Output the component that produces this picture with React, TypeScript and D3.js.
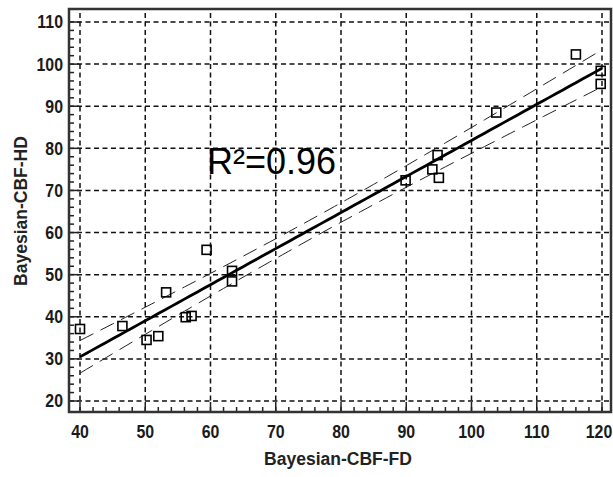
import React from "react";
import * as d3 from "d3";

// Observed values: Bayesian CBF (FD) vs Bayesian CBF (HD)
const cbfFD = [40.0, 46.5, 50.2, 52.0, 53.2, 56.2, 57.1, 59.4, 63.3, 63.3, 89.9, 94.0, 94.8, 95.0, 103.8, 116.0, 119.8, 119.8];
const cbfHD = [37.1, 37.8, 34.5, 35.4, 45.8, 39.9, 40.2, 55.9, 50.9, 48.4, 72.4, 75.0, 78.4, 73.0, 88.5, 102.3, 98.4, 95.3];

const xTicks = [40, 50, 60, 70, 80, 90, 100, 110, 120];
const yTicks = [20, 30, 40, 50, 60, 70, 80, 90, 100, 110];
const xMinorTicks = d3.range(40, 121, 2);
const yMinorTicks = d3.range(20, 111, 2);
const r2Label = "R\u00B2=0.96";

const W = 613;
const H = 477;
const frame = { left: 69, top: 9, right: 611, bottom: 412 };

// Ordinary least squares fit with a 95% confidence band for the mean response
function fitLine(xs: number[], ys: number[]) {
  const n = xs.length;
  const mx = d3.mean(xs)!;
  const my = d3.mean(ys)!;
  let sxx = 0;
  let sxy = 0;
  xs.forEach((x, i) => {
    sxx += (x - mx) * (x - mx);
    sxy += (x - mx) * (ys[i] - my);
  });
  const b = sxy / sxx;
  const a = my - b * mx;
  let sse = 0;
  xs.forEach((x, i) => {
    const r = ys[i] - (a + b * x);
    sse += r * r;
  });
  const s = Math.sqrt(sse / (n - 2));
  const t = 2.12; // t(0.975, 16)
  const half = (x: number) => t * s * Math.sqrt(1 / n + ((x - mx) * (x - mx)) / sxx);
  return { a, b, half };
}

export default function App() {
  const x = d3.scaleLinear().domain([40, 120]).range([80, 602]);
  const y = d3.scaleLinear().domain([20, 110]).range([401, 22]);

  const fit = fitLine(cbfFD, cbfHD);
  const xs = d3.range(40, 120.01, 1);
  const line = d3
    .line<[number, number]>()
    .x((d) => x(d[0]))
    .y((d) => y(d[1]));
  const fitPath = line(xs.map((v) => [v, fit.a + fit.b * v]))!;
  const upperPath = line(xs.map((v) => [v, fit.a + fit.b * v + fit.half(v)]))!;
  const lowerPath = line(xs.map((v) => [v, fit.a + fit.b * v - fit.half(v)]))!;

  const font = "'Liberation Sans', Arial, sans-serif";
  const sq = 9;

  return (
    <svg
      width={W}
      height={H}
      style={{ position: "absolute", left: 0, top: 0, background: "#fff" }}
    >
      <rect x={0} y={0} width={W} height={H} fill="#fff" />

      {/* grid */}
      <g stroke="#111" strokeWidth={1.5} strokeDasharray="5,3.5" fill="none">
        {yTicks.map((t) => (
          <line key={"gy" + t} x1={frame.left + 8} x2={frame.right} y1={y(t)} y2={y(t)} />
        ))}
        {xTicks.map((t) => (
          <line key={"gx" + t} x1={x(t)} x2={x(t)} y1={frame.top + 4} y2={frame.bottom - 8} />
        ))}
      </g>

      {/* minor and major ticks */}
      <g stroke="#222" strokeWidth={1.5}>
        {yMinorTicks.map((t) => (
          <line key={"my" + t} x1={frame.left} x2={frame.left + 5} y1={y(t)} y2={y(t)} />
        ))}
        {yTicks.map((t) => (
          <line key={"My" + t} x1={frame.left} x2={frame.left + 10} y1={y(t)} y2={y(t)} />
        ))}
        {xMinorTicks.map((t) => (
          <line key={"mx" + t} x1={x(t)} x2={x(t)} y1={frame.bottom} y2={frame.bottom - 5} />
        ))}
        {xTicks.map((t) => (
          <line key={"Mx" + t} x1={x(t)} x2={x(t)} y1={frame.bottom} y2={frame.bottom - 10} />
        ))}
      </g>

      {/* confidence band */}
      <g fill="none" stroke="#222" strokeWidth={1} strokeDasharray="15,8">
        <path d={upperPath} />
        <path d={lowerPath} />
      </g>

      {/* fitted line */}
      <path d={fitPath} fill="none" stroke="#000" strokeWidth={2.8} />

      {/* observations */}
      <g fill="none" stroke="#000" strokeWidth={1.6}>
        {cbfFD.map((v, i) => (
          <rect
            key={"p" + i}
            x={x(v) - sq / 2}
            y={y(cbfHD[i]) - sq / 2}
            width={sq}
            height={sq}
          />
        ))}
      </g>

      {/* frame */}
      <rect
        x={frame.left}
        y={frame.top}
        width={frame.right - frame.left}
        height={frame.bottom - frame.top}
        fill="none"
        stroke="#333"
        strokeWidth={2.5}
      />

      {/* tick labels (condensed bold digits) */}
      <g fontFamily={font} fontWeight="bold" fontSize={18.5} fill="#1a1a1a">
        {yTicks.map((t) => (
          <text
            key={"ly" + t}
            transform={`translate(63,${y(t)}) scale(0.86,1)`}
            textAnchor="end"
            dominantBaseline="central"
          >
            {t}
          </text>
        ))}
        {xTicks.map((t) => (
          <text
            key={"lx" + t}
            transform={`translate(${Math.min(x(t), 599)},432) scale(0.86,1)`}
            textAnchor="middle"
            dominantBaseline="central"
          >
            {t}
          </text>
        ))}
      </g>

      {/* axis titles */}
      <text
        x={338}
        y={465}
        textAnchor="middle"
        fontFamily={font}
        fontWeight="bold"
        fontSize={17.5}
        fill="#222"
      >
        Bayesian-CBF-FD
      </text>
      <text
        transform="translate(27,211) rotate(-90)"
        textAnchor="middle"
        fontFamily={font}
        fontWeight="bold"
        fontSize={17.5}
        fill="#222"
      >
        Bayesian-CBF-HD
      </text>

      {/* coefficient of determination */}
      <text x={207} y={174} fontFamily={font} fontSize={36} fill="#000">
        {r2Label}
      </text>
    </svg>
  );
}
